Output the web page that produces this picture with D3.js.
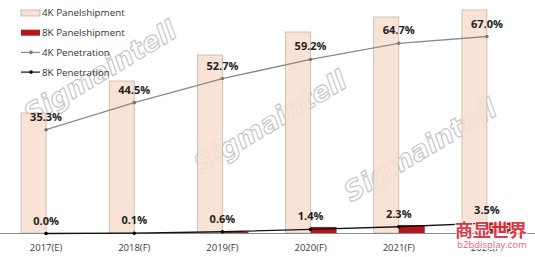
<!DOCTYPE html>
<html>
<head>
<meta charset="utf-8">
<script src="https://cdn.jsdelivr.net/npm/d3@7"></script>
<style>
  body { margin: 0; background: #fff; }
  svg { display: block; font-family: "Open Sans", sans-serif; }
</style>
</head>
<body>
<script>
// categories
var years = ["2017(E)", "2018(F)", "2019(F)", "2020(F)", "2021(F)", "2022(F)"];
// panel shipments (no axis shown)
var ship4k = [96, 121.6, 142.4, 160.8, 172.8, 178.4];
var ship8k = [0, 0, 1, 4.8, 6.4, 8.4];
// penetration rates, %
var pen4k = [35.3, 44.5, 52.7, 59.2, 64.7, 67.0];
var pen8k = [0.0, 0.1, 0.6, 1.4, 2.3, 3.5];
var legendNames = ["4K Panelshipment", "8K Panelshipment", "4K Penetration", "8K Penetration"];

var width = 535, height = 257, base = 233;
var fmt = d3.format(".1f");

var svg = d3.select("body").append("svg")
            .attr("width", width)
            .attr("height", height);

var x = d3.scaleBand()
          .domain(years)
          .range([2, 531]);
var cx = function(d) { return x(d) + x.bandwidth() / 2; };

// bars
var yBar = d3.scaleLinear()
             .domain([0, 200])
             .range([base, base - 250]);
// lines
var yPen = d3.scaleLinear()
             .domain([0, 100])
             .range([base + 0.5, base + 0.5 - 294]);

var barW = 25;

// watermarks behind everything
var marks = [[100, 72], [270, 122], [420, 150]];
svg.selectAll(".wm")
   .data(marks)
   .enter().append("text")
   .attr("class", "wm")
   .attr("transform", function(d) { return "translate(" + d[0] + "," + d[1] + ") rotate(-31)"; })
   .attr("text-anchor", "middle")
   .attr("dy", "0.35em")
   .style("font-family", "'DejaVu Sans', sans-serif")
   .style("font-size", "27px")
   .style("font-weight", "bold")
   .style("font-style", "italic")
   .style("fill", "#fff")
   .style("stroke", "#c4c4c4")
   .style("stroke-width", 1.1)
   .text("Sigmaintell");

// 4K bars
svg.selectAll(".bar4k")
   .data(years)
   .enter().append("rect")
   .attr("class", "bar4k")
   .attr("x", function(d) { return cx(d) - barW; })
   .attr("y", function(d, i) { return yBar(ship4k[i]); })
   .attr("width", barW)
   .attr("height", function(d, i) { return base - yBar(ship4k[i]); })
   .style("fill", "#f8e0d2")
   .style("stroke", "#c6ada2")
   .style("stroke-width", 0.8)
   .style("opacity", 0.9);

// 8K bars
svg.selectAll(".bar8k")
   .data(years)
   .enter().append("rect")
   .attr("class", "bar8k")
   .attr("x", function(d) { return cx(d); })
   .attr("y", function(d, i) { return yBar(ship8k[i]); })
   .attr("width", barW + 1)
   .attr("height", function(d, i) { return base - yBar(ship8k[i]); })
   .style("fill", "#b3161c");

// axis
var xAxis = d3.axisBottom(x).tickSize(0).tickPadding(11);
var gx = svg.append("g")
   .attr("transform", "translate(0," + base + ")")
   .call(xAxis);
gx.select(".domain").attr("d", "M0,0.5H535").style("stroke", "#8c8c8c");
gx.selectAll("text")
  .style("font-size", "9.5px")
  .style("fill", "#3a3a3a")
  .style("font-family", "'Open Sans', sans-serif");

// penetration lines
var line = function(vals) {
  return d3.line()
           .x(function(d) { return cx(d); })
           .y(function(d, i) { return yPen(vals[i]); })(years);
};

svg.append("path")
   .attr("d", line(pen4k))
   .style("fill", "none")
   .style("stroke", "#8a8a8a")
   .style("stroke-width", 1.3);
svg.selectAll(".dot4k")
   .data(years)
   .enter().append("circle")
   .attr("cx", cx)
   .attr("cy", function(d, i) { return yPen(pen4k[i]); })
   .attr("r", 1.8)
   .style("fill", "#777");

svg.append("path")
   .attr("d", line(pen8k))
   .style("fill", "none")
   .style("stroke", "#111")
   .style("stroke-width", 1.3);
svg.selectAll(".dot8k")
   .data(years)
   .enter().append("circle")
   .attr("cx", cx)
   .attr("cy", function(d, i) { return yPen(pen8k[i]); })
   .attr("r", 1.8)
   .style("fill", "#000");

// value labels
function labels(vals, cls) {
  svg.selectAll("." + cls)
     .data(years)
     .enter().append("text")
     .attr("class", cls)
     .attr("x", cx)
     .attr("y", function(d, i) { return yPen(vals[i]) - 9; })
     .attr("text-anchor", "middle")
     .style("font-size", "11px")
     .style("font-weight", "bold")
     .style("fill", "#222")
     .text(function(d, i) { return fmt(vals[i]) + "%"; });
}
labels(pen4k, "lab4k");
labels(pen8k, "lab8k");

// legend
var legend = svg.selectAll(".legend")
                .data(legendNames)
                .enter().append("g")
                .attr("class", "legend")
                .attr("transform", function(d, i) { return "translate(21," + (13 + i * 19.7) + ")"; });

legend.filter(function(d, i) { return i < 2; })
      .append("rect")
      .attr("x", 0)
      .attr("y", -3)
      .attr("width", 19)
      .attr("height", 6)
      .style("fill", function(d, i) { return i === 0 ? "#f3e3d9" : "#b3161c"; })
      .style("stroke", function(d, i) { return i === 0 ? "#c6ada2" : "none"; })
      .style("stroke-width", 0.8);

legend.filter(function(d, i) { return i >= 2; })
      .each(function(d, i) {
        var g = d3.select(this);
        var c = i === 0 ? "#8a8a8a" : "#111";
        g.append("line")
         .attr("x1", 0).attr("x2", 19).attr("y1", 0).attr("y2", 0)
         .style("stroke", c).style("stroke-width", 1.2);
        g.append("circle")
         .attr("cx", 10).attr("cy", 0).attr("r", 1.8)
         .style("fill", i === 0 ? "#777" : "#000");
      });

legend.append("text")
      .attr("x", 21)
      .attr("y", 0)
      .attr("dy", "0.35em")
      .style("font-size", "9.8px")
      .style("fill", "#333")
      .text(function(d) { return d; });

// site logo watermark, bottom right (sits over the last tick label as in the source)
svg.append("text")
   .attr("x", 491)
   .attr("y", 237)
   .attr("text-anchor", "middle")
   .style("font-family", "'Noto Sans CJK SC', sans-serif")
   .style("font-size", "18px")
   .style("font-weight", "bold")
   .style("fill", "#d9303c")
   .style("stroke", "#fff")
   .style("stroke-width", 2)
   .style("paint-order", "stroke")
   .style("opacity", 0.92)
   .text("商显世界");
svg.append("text")
   .attr("x", 492)
   .attr("y", 248)
   .attr("text-anchor", "middle")
   .style("font-size", "9.5px")
   .style("fill", "#e0607a")
   .style("stroke", "#fff")
   .style("stroke-width", 2)
   .style("paint-order", "stroke")
   .text("b2bdisplay.com");
</script>
</body>
</html>
